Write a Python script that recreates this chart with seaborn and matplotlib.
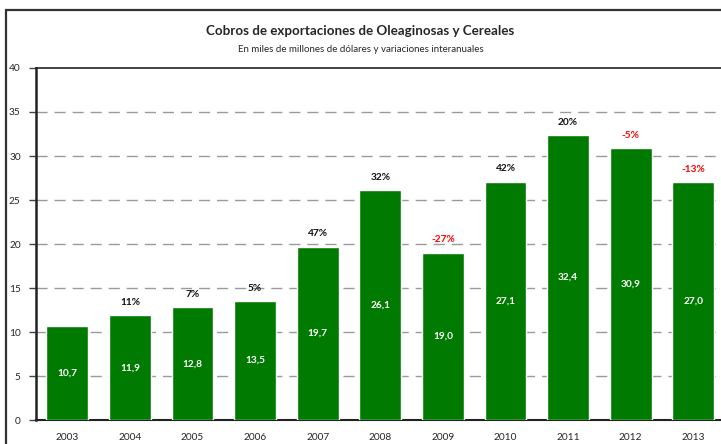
import matplotlib
matplotlib.use("Agg")
import matplotlib.pyplot as plt
import seaborn as sns
import pandas as pd
from matplotlib.patches import Rectangle

sns.set_style("white")
plt.rcParams["font.family"] = ["Lato", "DejaVu Sans"]

# data
years = ["2003", "2004", "2005", "2006", "2007", "2008", "2009", "2010", "2011", "2012", "2013"]
cobros = [10.7, 11.9, 12.8, 13.5, 19.7, 26.1, 19.0, 27.1, 32.4, 30.9, 27.0]
variacion = [None, 11, 7, 5, 47, 32, -27, 42, 20, -5, -13]

df = pd.DataFrame({"anio": years, "cobros": cobros})

fig = plt.figure(figsize=(7.21, 4.44), dpi=100)
# outer frame (cropped on the right and bottom in the reference)
fig.patches.append(Rectangle((6 / 721, -0.05), 1.0, 1 - 10 / 444 + 0.05,
                             transform=fig.transFigure, fill=False,
                             edgecolor="#333333", linewidth=1.6))

ax = fig.add_axes([36 / 721, 24 / 444, 688.6 / 721, 352 / 444])
sns.barplot(data=df, x="anio", y="cobros", color="#007A00", saturation=1,
            width=0.67, ax=ax, zorder=3)

ax.set_ylim(0, 40)
ax.set_xlim(-0.5, 10.5)
ax.set_yticks(range(0, 41, 5))
for yv in range(5, 40, 5):
    ax.axhline(yv, color="#9a9a9a", linewidth=1, linestyle=(0, (8, 5)), zorder=1)

ax.set_xlabel("")
ax.set_ylabel("")
for s in ["left", "bottom", "top"]:
    ax.spines[s].set_visible(True)
    ax.spines[s].set_color("#222222")
ax.spines["left"].set_linewidth(1.8)
ax.spines["bottom"].set_linewidth(1.5)
ax.spines["top"].set_linewidth(1.2)
ax.spines["right"].set_visible(False)
ax.tick_params(axis="y", direction="out", length=5, width=1, color="#444444",
               labelsize=7.3, pad=6, left=True)
ax.tick_params(axis="x", length=0, labelsize=7.3, pad=9)

for i, (v, p) in enumerate(zip(cobros, variacion)):
    ax.text(i, v / 2, f"{v:.1f}".replace(".", ","), ha="center", va="center",
            color="white", fontsize=7.3, fontweight="bold", zorder=4)
    if p is not None:
        ax.annotate(f"{p}%", (i, v), xytext=(0, 6), textcoords="offset points",
                    ha="center", va="bottom", fontsize=7.3, fontweight="bold",
                    color="red" if p < 0 else "#111111")

fig.text(0.5, 1 - 31 / 444, "Cobros de exportaciones de Oleaginosas y Cereales",
         ha="center", va="center", fontsize=9.6, fontweight="bold")
fig.text(0.5, 1 - 49 / 444, "En miles de millones de dólares y variaciones interanuales",
         ha="center", va="center", fontsize=7)

fig.savefig("out.png", dpi=100)
